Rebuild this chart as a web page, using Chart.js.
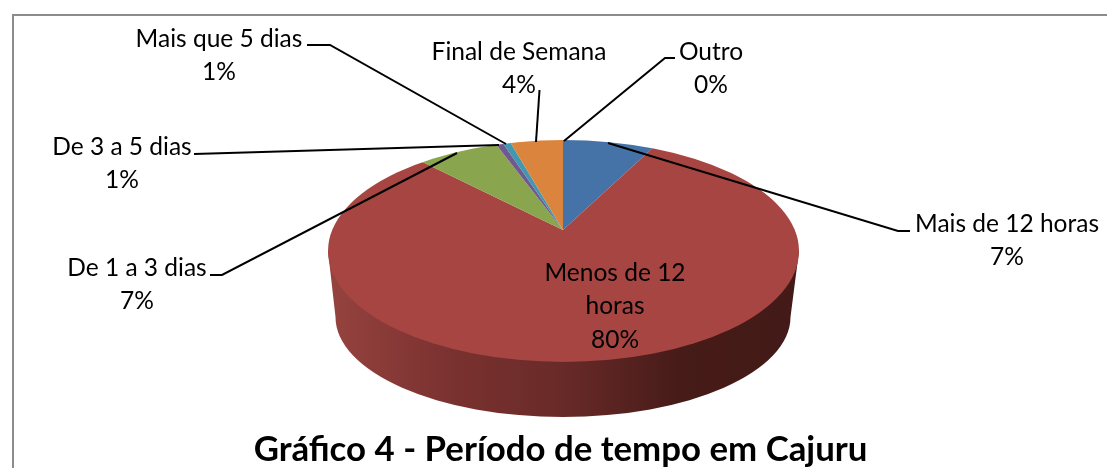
<!DOCTYPE html>
<html>
<head>
<meta charset="utf-8">
<style>
    html, body { margin: 0; padding: 0; background: #fff; }
    #wrap { width: 1107px; height: 468px; position: relative; }
</style>
<script src="https://cdn.jsdelivr.net/npm/chart.js@4"></script>
</head>
<body>
<div id="wrap"><canvas id="myChart" width="1107" height="468"></canvas></div>
<script>
const categories = ['Mais de 12 horas', 'Menos de 12 horas', 'De 1 a 3 dias', 'De 3 a 5 dias', 'Mais que 5 dias', 'Final de Semana', 'Outro'];
// slice sizes as they look in the picture, the printed labels are rounded differently
const sliceSizes = [7.0, 81.5, 6.4, 0.56, 0.58, 4.03, 0];
const shownPercents = ['7%', '80%', '7%', '1%', '1%', '4%', '0%'];
const sliceColors = ['#4572a7', '#a64542', '#89a54e', '#71588f', '#4198af', '#db843d', '#8aa9d3'];
const chartTitle = 'Gráfico 4 - Período de tempo em Cajuru';

// where the pie sits on the page
const apex = { x: 563, y: 230 };
const topFace = { x: 563.5, y: 251, rx: 235.5, ry: 111 };
const bottomFace = { x: 563, y: 317, rx: 227.5, ry: 100 };
const tilt = 0.43;

// label text lines centre and leader line, same order as categories
const callouts = [
    { x: 1007, y: 224, lines: ['Mais de 12 horas'], leader: [[608, 143], [898, 231], [910, 231]] },
    { x: 615, y: 273, lines: ['Menos de 12', 'horas'], leader: null },
    { x: 137, y: 268, lines: ['De 1 a 3 dias'], leader: [[457, 153], [222, 275], [210, 275]] },
    { x: 122, y: 147, lines: ['De 3 a 5 dias'], leader: [[499, 145], [194, 154]] },
    { x: 219, y: 39, lines: ['Mais que 5 dias'], leader: [[506, 144], [330, 45], [307, 45]] },
    { x: 519, y: 52, lines: ['Final de Semana'], leader: [[536, 142], [539.5, 90]] },
    { x: 711, y: 52, lines: ['Outro'], leader: [[564, 141], [665, 58], [675, 58]] }
];

const tiltedPie = {
    id: 'tiltedPie',
    beforeDraw(chart) {
        // frame
        const ctx = chart.ctx;
        ctx.save();
        ctx.strokeStyle = '#8c8c8c';
        ctx.lineWidth = 2;
        ctx.beginPath();
        ctx.moveTo(13, 468);
        ctx.lineTo(13, 15);
        ctx.lineTo(1107, 15);
        ctx.stroke();
        ctx.restore();
    },
    beforeDatasetsDraw(chart) {
        const ctx = chart.ctx;
        const arc = chart.getDatasetMeta(0).data[0];

        // side wall of the pie
        const grad = ctx.createLinearGradient(topFace.x - topFace.rx, 0, topFace.x + topFace.rx, 0);
        grad.addColorStop(0, '#96433f');
        grad.addColorStop(0.25, '#7b3230');
        grad.addColorStop(0.5, '#682a28');
        grad.addColorStop(0.75, '#461b18');
        grad.addColorStop(1, '#431a17');
        ctx.save();
        ctx.fillStyle = grad;
        ctx.beginPath();
        ctx.moveTo(topFace.x - topFace.rx, topFace.y);
        ctx.lineTo(bottomFace.x - bottomFace.rx, bottomFace.y);
        ctx.ellipse(bottomFace.x, bottomFace.y, bottomFace.rx, bottomFace.ry, 0, Math.PI, 0, true);
        ctx.lineTo(topFace.x + topFace.rx, topFace.y);
        ctx.closePath();
        ctx.fill();
        ctx.restore();

        // top face: slices from the library, squashed and cut to the ellipse
        const scale = 360 / arc.outerRadius;
        ctx.save();
        ctx.beginPath();
        ctx.ellipse(topFace.x, topFace.y, topFace.rx, topFace.ry, 0, 0, Math.PI * 2);
        ctx.clip();
        ctx.translate(apex.x, apex.y);
        ctx.scale(scale, scale * tilt);
        ctx.translate(-arc.x, -arc.y);
    },
    afterDatasetsDraw(chart) {
        const ctx = chart.ctx;
        ctx.restore();

        // leader lines and labels
        ctx.save();
        ctx.strokeStyle = '#000';
        ctx.lineWidth = 2;
        ctx.fillStyle = '#000';
        ctx.font = '24.5px Lato';
        ctx.textAlign = 'center';
        ctx.textBaseline = 'middle';
        for (let i = 0; i < callouts.length; i++) {
            const c = callouts[i];
            if (c.leader) {
                ctx.beginPath();
                c.leader.forEach(function (p, n) {
                    if (n === 0) ctx.moveTo(p[0], p[1]);
                    else ctx.lineTo(p[0], p[1]);
                });
                ctx.stroke();
            }
            const lines = c.lines.concat([shownPercents[i]]);
            lines.forEach(function (line, n) {
                ctx.fillText(line, c.x, c.y + n * 33.5);
            });
        }
        ctx.restore();
    }
};

const ctx = document.getElementById('myChart').getContext('2d');
const chart = new Chart(ctx, {
    type: 'pie',
    data: {
        labels: categories,
        datasets: [{
            data: sliceSizes,
            backgroundColor: sliceColors,
            borderWidth: 0,
            clip: false
        }]
    },
    options: {
        responsive: false,
        animation: false,
        layout: { padding: { left: 14 } },
        plugins: {
            legend: { display: false },
            tooltip: { enabled: false },
            title: {
                display: true,
                text: chartTitle,
                position: 'bottom',
                color: '#000',
                font: { family: 'Lato', size: 34.8, weight: 'bold' },
                padding: { top: 0, bottom: -3 }
            }
        }
    },
    plugins: [tiltedPie]
});
</script>
</body>
</html>
